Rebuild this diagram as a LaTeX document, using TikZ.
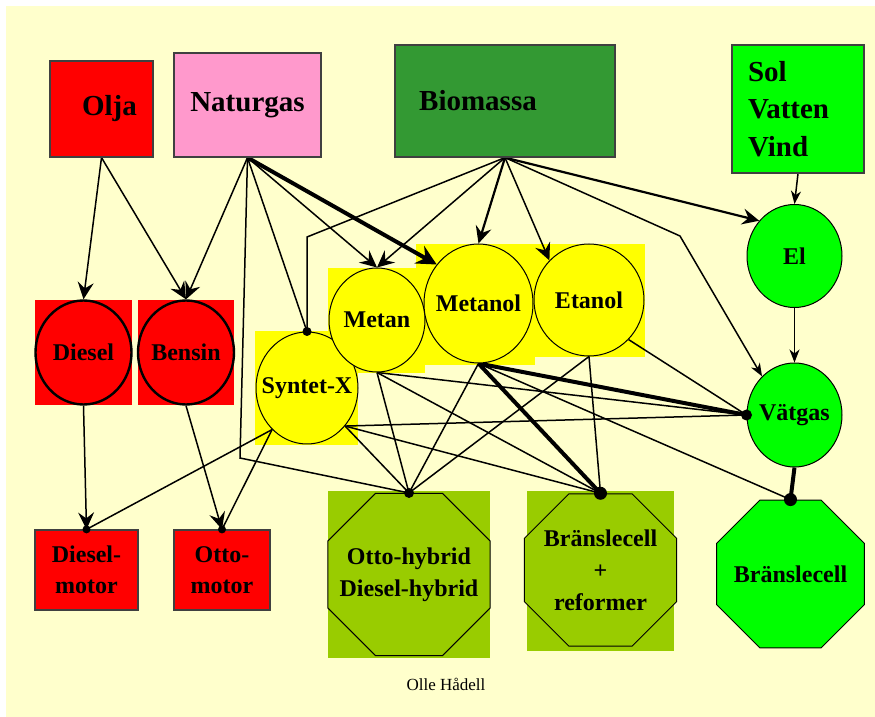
\documentclass[tikz,border=0pt]{standalone}
\usepackage{fontspec}
\setmainfont{Liberation Serif}
\usetikzlibrary{arrows.meta,shapes.geometric}
\pgfdeclarelayer{back}
\pgfdeclarelayer{edges}
\pgfsetlayers{back,edges,main}
\definecolor{paper}{HTML}{FFFFCC}
\definecolor{fossil}{HTML}{FF0000}
\definecolor{gaspink}{HTML}{FF99CC}
\definecolor{biogreen}{HTML}{339933}
\definecolor{sungreen}{HTML}{00FF00}
\definecolor{fuelyellow}{HTML}{FFFF00}
\definecolor{hybridgreen}{HTML}{99CC00}

\begin{document}
\begin{tikzpicture}[x=0.5pt,y=-0.5pt,
    srcbox/.style={rectangle,draw=black!75,line width=0.6pt,inner sep=0pt,
        font=\bfseries\fontsize{14.5pt}{18.75pt}\selectfont},
    fuel/.style={ellipse,draw,line width=0.5pt,inner sep=0pt,
        label={[font=\bfseries\fontsize{12pt}{15pt}\selectfont]center:#1}},
    engine/.style={rectangle,draw=black!75,line width=0.6pt,fill=fossil,inner sep=0pt,
        align=center,font=\bfseries\fontsize{12pt}{15.5pt}\selectfont},
    drive/.style={regular polygon,regular polygon sides=8,draw,line width=0.5pt,inner sep=0pt,
        label={[align=center,font=\bfseries\fontsize{12pt}{16pt}\selectfont]center:#1}},
    link/.style={line width=0.75pt},
    heavy/.style={line width=2pt},
    feed/.style={link,-{Stealth[length=8.5pt,width=8pt,inset=3pt]}},
    feedsmall/.style={link,-{Stealth[length=6.5pt,width=5pt,inset=2pt]}},
    joint/.style={fill=black}]
    \useasboundingbox (0,0) rectangle (875,717);

    \node[srcbox,fill=fossil,minimum width=51.5pt,minimum height=48pt] (olja) at (101.5,109) {\hspace*{8pt}Olja};
    \node[srcbox,fill=gaspink,minimum width=73.5pt,minimum height=52pt] (naturgas) at (247.5,105) {Naturgas};
    \node[srcbox,fill=biogreen,minimum width=110pt,minimum height=56pt] (biomassa) at (505,101) {Biomassa\hspace*{27pt}};
    \node[srcbox,fill=sungreen,minimum width=66pt,minimum height=64pt,align=left,text width=50pt] (sol) at (798,109) {Sol\\Vatten\\Vind};

    \node[fuel=Diesel,fill=fossil,line width=1.2pt,minimum width=48pt,minimum height=52pt] (diesel) at (83.5,352.5) {};
    \node[fuel=Bensin,fill=fossil,line width=1.2pt,minimum width=48pt,minimum height=52pt] (bensin) at (186,352.5) {};
    \node[fuel=Syntet-X,fill=fuelyellow,minimum width=51pt,minimum height=56pt] (syntet) at (307,388) {};
    \node[fuel=Metan,fill=fuelyellow,minimum width=48pt,minimum height=52pt] (metan) at (377,320) {};
    \node[fuel=Metanol,fill=fuelyellow,minimum width=54.5pt,minimum height=59.5pt] (metanol) at (478.5,303.5) {};
    \node[fuel=Etanol,fill=fuelyellow,minimum width=55pt,minimum height=56pt] (etanol) at (589,300) {};
    \node[fuel=El,fill=sungreen,minimum width=47.5pt,minimum height=51.5pt] (el) at (794.5,256) {};
    \node[fuel=Vätgas,fill=sungreen,minimum width=47.5pt,minimum height=52pt] (vatgas) at (794.5,415) {};

    \node[engine,minimum width=51.5pt,minimum height=40pt] (dmotor) at (86.5,570) {Diesel-\\motor};
    \node[engine,minimum width=48pt,minimum height=40pt] (omotor) at (222,570) {Otto-\\motor};
    \node[drive={Otto-hybrid\\Diesel-hybrid},fill=hybridgreen,minimum size=87.7pt] (oh) at (409,574.5) {};
    \node[drive={Bränslecell\\+\\reformer},fill=hybridgreen,minimum size=82.5pt] (bcr) at (600.5,570) {};
    \node[drive=Bränslecell,fill=sungreen,minimum size=80pt] (bc) at (790.5,574) {};

    \node[font=\fontsize{8.5pt}{10pt}\selectfont] (credit) at (446,684) {Olle Hådell};

    \coordinate (ngbend) at (240,458);
    \coordinate (bmbend) at (307,237);
    \coordinate (h2bend) at (680,236);

    \begin{pgfonlayer}{back}
        \fill[paper] (6,6) rectangle (875,717);
        \fill[fossil] (35,300) rectangle (132,405);
        \fill[fossil] (138,300) rectangle (234,405);
        \fill[fuelyellow] (328,268) rectangle (425,373);
        \fill[fuelyellow] (416,244) rectangle (535,365);
        \fill[fuelyellow] (535,244) rectangle (645,357);
        \fill[fuelyellow] (255,331) rectangle (358,445);
        \fill[hybridgreen] (328,491) rectangle (490,658);
        \fill[hybridgreen] (527,491) rectangle (674,651);
    \end{pgfonlayer}

    \begin{pgfonlayer}{edges}
        \draw[feed] (olja.south) -- (diesel.north);
        \draw[feed] (olja.south) -- (bensin.north);
        \draw[feed] (naturgas.south) -- (bensin.north);
        \draw[feed] (naturgas.south) -- (metan.north);
        \draw[feed,heavy,-{Stealth[length=10pt,width=10pt,inset=3.5pt]}] (naturgas.south) -- (metanol.137);
        \draw[link] (naturgas.south) -- (syntet.north);
        \draw[link] (naturgas.south) -- (ngbend) -- (oh.north);
        \draw[link] (biomassa.south) -- (bmbend) -- (syntet.north);
        \draw[feed] (biomassa.south) -- (metan.north);
        \draw[feed,line width=1.1pt] (biomassa.south) -- (metanol.north);
        \draw[feed] (biomassa.south) -- (etanol.135);
        \draw[feed,line width=1.1pt] (biomassa.south) -- (el.135);
        \draw[feedsmall] (biomassa.south) -- (h2bend) -- (vatgas.130);
        \draw[feedsmall] (sol.south) -- (el.north);
        \draw[feedsmall] (el.south) -- (vatgas.north);
        \draw[heavy] (vatgas.south) -- (bc.north);
        \draw[feed] (diesel.south) -- (dmotor.north);
        \draw[feed] (bensin.south) -- (omotor.north);
        \draw[link] (syntet.-130) -- (dmotor.north);
        \draw[link] (syntet.-130) -- (omotor.north);
        \draw[link] (syntet.-45) -- (oh.north);
        \draw[link] (syntet.-45) -- (bcr.north);
        \draw[link] (syntet.-45) -- (vatgas.west);
        \draw[link] (metan.south) -- (oh.north);
        \draw[link] (metan.south) -- (bcr.north);
        \draw[link] (metan.south) -- (vatgas.west);
        \draw[link] (metanol.south) -- (oh.north);
        \draw[heavy] (metanol.south) -- (bcr.north);
        \draw[heavy] (metanol.south) -- (vatgas.west);
        \draw[link] (metanol.south) -- (bc.north);
        \draw[link] (etanol.south) -- (oh.north);
        \draw[link] (etanol.south) -- (bcr.north);
        \draw[link] (etanol.-45) -- (vatgas.west);
    \end{pgfonlayer}

    \fill[joint] (dmotor.north) circle[radius=4];
    \fill[joint] (omotor.north) circle[radius=4];
    \fill[joint] (syntet.north) circle[radius=4.5];
    \fill[joint] (oh.north) circle[radius=5];
    \fill[joint] (bcr.north) circle[radius=6.5];
    \fill[joint] (vatgas.west) circle[radius=5.5];
    \fill[joint] (bc.north) circle[radius=6.5];
\end{tikzpicture}
\end{document}
